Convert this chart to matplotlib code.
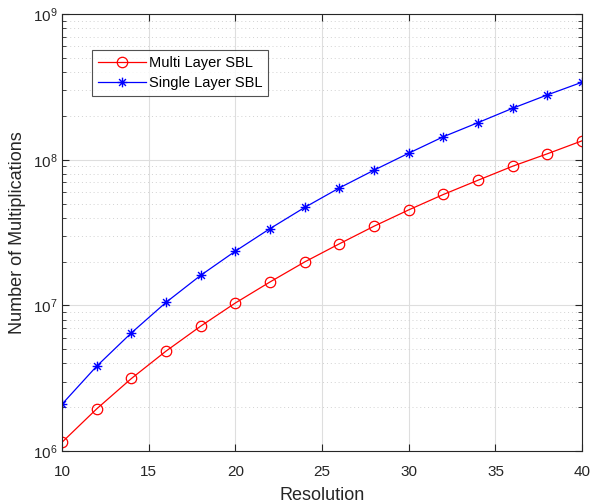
import matplotlib
matplotlib.use("Agg")
import numpy as np
import matplotlib.pyplot as plt
from matplotlib.path import Path
from matplotlib.ticker import LogLocator, MultipleLocator

plt.rcParams['font.family'] = ['Liberation Sans', 'DejaVu Sans']

resolution = [10, 12, 14, 16, 18, 20, 22, 24, 26, 28, 30, 32, 34, 36, 38, 40]
multi_layer = [1.15e6, 1.95e6, 3.15e6, 4.86e6, 7.21e6, 1.04e7, 1.45e7, 1.99e7,
               2.65e7, 3.50e7, 4.53e7, 5.78e7, 7.24e7, 9.04e7, 1.10e8, 1.35e8]
single_layer = [2.1e6, 3.83e6, 6.48e6, 1.05e7, 1.61e7, 2.36e7, 3.37e7, 4.71e7,
                6.41e7, 8.49e7, 1.11e8, 1.44e8, 1.80e8, 2.26e8, 2.79e8, 3.41e8]

# MATLAB-style 8-spoke asterisk marker
verts, codes = [], []
for ang in np.deg2rad([0, 45, 90, 135]):
    c, s = np.cos(ang), np.sin(ang)
    verts += [(-c, -s), (c, s)]
    codes += [Path.MOVETO, Path.LINETO]
asterisk = Path(verts, codes)

fig = plt.figure(figsize=(5.91, 5.04), dpi=100)
ax = fig.add_axes([0.105, 0.105, 0.88, 0.867])

ax.plot(resolution, multi_layer, color='#ff0000', lw=0.9, marker='o', ms=7.5,
        mfc='none', mew=0.9, label='Multi Layer SBL')
ax.plot(resolution, single_layer, color='#0000ff', lw=0.9, marker=asterisk, ms=7,
        mfc='none', mew=1.0, label='Single Layer SBL')

ax.set_yscale('log')
ax.set_xlim(10, 40)
ax.set_ylim(1e6, 1e9)
ax.xaxis.set_major_locator(MultipleLocator(5))
ax.yaxis.set_major_locator(LogLocator(base=10, numticks=10))
ax.yaxis.set_minor_locator(LogLocator(base=10, subs=range(2, 10), numticks=20))

ax.grid(True, which='major', color='#dedede', lw=0.8, ls='-')
ax.grid(True, which='minor', axis='y', color='#d2d2d2', lw=0.7, ls=(0, (1, 3)))
ax.set_axisbelow(True)

for s in ax.spines.values():
    s.set_color('#262626')
    s.set_linewidth(0.8)
ax.tick_params(which='both', direction='in', top=True, right=True,
               colors='#262626', labelsize=11)
ax.tick_params(which='major', length=5)
ax.tick_params(which='minor', length=3)
ax.tick_params(axis='x', which='major', pad=10)
ax.tick_params(axis='x', which='minor', top=False, bottom=False)

ax.set_xlabel('Resolution', fontsize=13, color='#262626', labelpad=6)
ax.set_ylabel('Number of Multiplications', fontsize=13, color='#262626', labelpad=5)

leg = ax.legend(loc='upper left', bbox_to_anchor=(0.058, 0.918), borderaxespad=0,
                fontsize=10.5, frameon=True, fancybox=False, edgecolor='#262626',
                handlelength=3.3, borderpad=0.4, labelspacing=0.45,
                handletextpad=0.2)
leg.get_frame().set_linewidth(0.8)

fig.savefig('out.png', dpi=100)
